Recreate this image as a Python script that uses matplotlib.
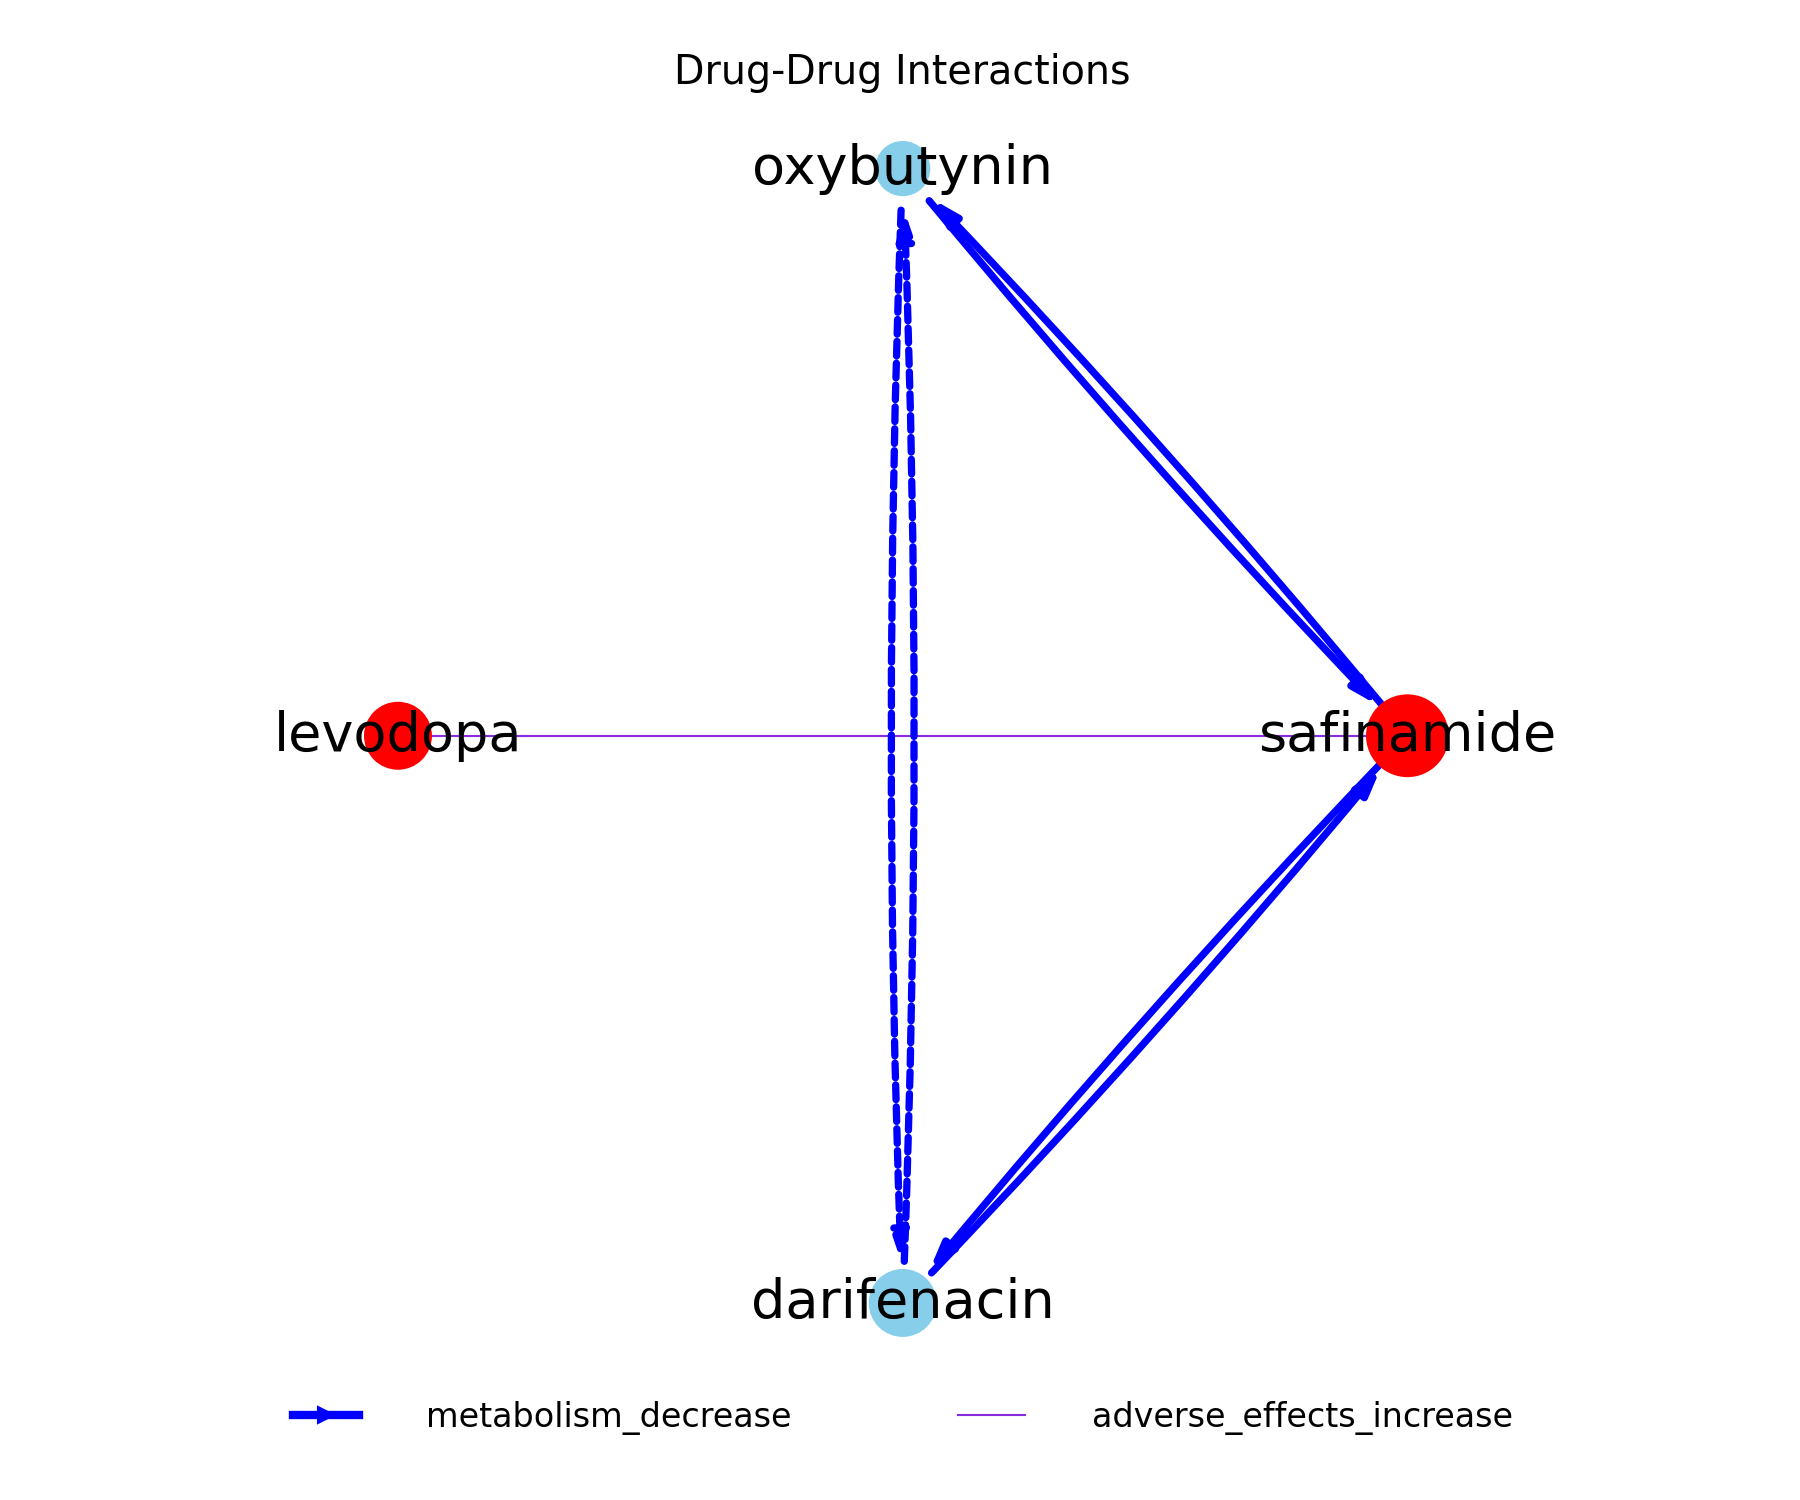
import matplotlib
matplotlib.use("Agg")
import matplotlib.pyplot as plt
from matplotlib.patches import FancyArrowPatch
from matplotlib.lines import Line2D

nodes = ["levodopa", "safinamide", "oxybutynin", "darifenacin"]
pos = {"levodopa": (-1.0, 0.0), "safinamide": (1.0, 0.0),
       "oxybutynin": (0.0, 1.0), "darifenacin": (0.0, -1.0)}
node_colors = ["red", "red", "skyblue", "skyblue"]
node_sizes = [1000, 1500, 650, 1000]

metab_edges = [("oxybutynin", "safinamide"), ("safinamide", "oxybutynin"),
               ("safinamide", "darifenacin"), ("darifenacin", "safinamide")]
metab_dashed = [("oxybutynin", "darifenacin"), ("darifenacin", "oxybutynin")]
adverse_edges = [("levodopa", "safinamide")]

fig = plt.figure(figsize=(12, 10), dpi=150)
ax = fig.add_axes([0.151, 0.086, 0.701, 0.847])
ax.set_xlim(-1.25, 1.25)
ax.set_ylim(-1.12, 1.12)
ax.axis("off")

for u, v in adverse_edges:
    ax.plot([pos[u][0], pos[v][0]], [pos[u][1], pos[v][1]], color="blueviolet", lw=1, zorder=1)

def arrow(u, v, ls):
    a = FancyArrowPatch(pos[u], pos[v], arrowstyle="-|>,head_length=0.5,head_width=0.15",
                        connectionstyle="arc3,rad=0.02", color="blue", lw=3.5,
                        linestyle=ls, mutation_scale=20, shrinkA=20, shrinkB=20, zorder=2)
    ax.add_patch(a)

for u, v in metab_edges:
    arrow(u, v, "-")
for u, v in metab_dashed:
    arrow(u, v, (0, (2, 1)))

xs = [pos[n][0] for n in nodes]
ys = [pos[n][1] for n in nodes]
ax.scatter(xs, ys, s=node_sizes, c=node_colors, zorder=3)
for n in nodes:
    ax.text(pos[n][0], pos[n][1], n, fontsize=26, ha="center", va="center", zorder=4)

ax.set_title("Drug-Drug Interactions", fontsize=19, pad=8)
handles = [Line2D([0], [0], color="blue", lw=4, marker=">", markersize=8),
           Line2D([0], [0], color="blueviolet", lw=1)]
ax.legend(handles, ["metabolism_decrease", "adverse_effects_increase"], loc="center",
          bbox_to_anchor=(0.5, -0.037), ncol=2, frameon=False, fontsize=16,
          columnspacing=5, handletextpad=2)
plt.savefig("out.png")
